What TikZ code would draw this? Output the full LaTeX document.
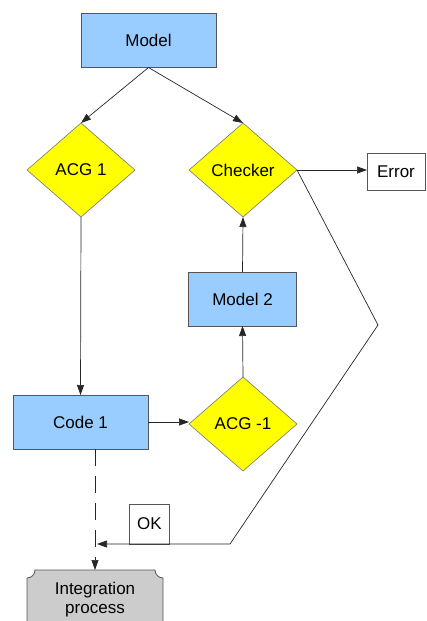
\documentclass[tikz,border=0pt]{standalone}
\usepackage{fontspec}
\setmainfont{Liberation Sans}
\usetikzlibrary{shapes.geometric,arrows.meta,calc}
\definecolor{boxblue}{HTML}{99CCFF}
\definecolor{dyellow}{HTML}{FFFF00}
\definecolor{igray}{HTML}{CCCCCC}
\definecolor{edge}{HTML}{555555}
\begin{document}
\begin{tikzpicture}[x=1pt,y=-1pt,
  every node/.style={font=\fontsize{17}{19.5}\selectfont, inner sep=0pt, outer sep=0pt},
  bluebox/.style={draw=edge, fill=boxblue, line width=0.8pt, minimum width=135pt, minimum height=54pt},
  decision/.style={diamond, draw=edge!80, fill=dyellow, line width=0.6pt, minimum width=108pt, minimum height=94pt, aspect=1.15},
  plainbox/.style={draw=edge, fill=white, line width=0.8pt},
  conn/.style={draw=black!85, line width=0.7pt},
  arr/.style={conn, -{Triangle[length=10pt,width=7pt]}},
  intshape/.style={draw=edge, fill=igray, line width=0.8pt}
]
\useasboundingbox (0,0) rectangle (426,621);
\node[bluebox] (model) at (148.5,40.5) {Model};
\node[decision] (acg1) at (81,170) {ACG 1};
\node[decision] (checker) at (243,170) {Checker};
\node[plainbox, minimum width=58pt, minimum height=37pt] (error) at (396,171.5) {Error};
\node[bluebox, minimum width=108pt] (model2) at (242.5,299) {Model 2};
\node[bluebox] (code1) at (80.5,422) {Code 1};
\node[decision] (acgm) at (243,424) {ACG -1};
\node[minimum width=136pt, minimum height=60pt] (int) at (95,600) {};
\path[intshape] ($(int.north west)+(8,0)$) -- ($(int.north east)+(-8,0)$)
  .. controls ($(int.north east)+(-8,4.4)$) and ($(int.north east)+(-4.4,8)$) .. ($(int.north east)+(0,8)$)
  -- ($(int.south east)+(0,-8)$)
  .. controls ($(int.south east)+(-4.4,-8)$) and ($(int.south east)+(-8,-4.4)$) .. ($(int.south east)+(-8,0)$)
  -- ($(int.south west)+(8,0)$)
  .. controls ($(int.south west)+(8,-4.4)$) and ($(int.south west)+(4.4,-8)$) .. ($(int.south west)+(0,-8)$)
  -- ($(int.north west)+(0,8)$)
  .. controls ($(int.north west)+(4.4,8)$) and ($(int.north west)+(8,4.4)$) .. cycle;
\node[align=center] at ([yshift=0.5pt]int.center) {Integration\\process};
\coordinate (k) at (378,325);
\coordinate (m) at (230,544);
\node[plainbox, minimum width=40pt, minimum height=40pt, anchor=south] (ok) at (149.5,544) {OK};
\draw[arr] (model.south) -- (acg1.north);
\draw[arr] (model.south) -- (checker.north);
\draw[arr] (acg1.south) -- (code1.north);
\draw[arr] (code1.east) -- (code1.east -| acgm.west);
\draw[arr] (acgm.north) -- (model2.south);
\draw[arr] (model2.north) -- (checker.south);
\draw[arr] (checker.east) -- (checker.east -| error.west);
\draw[arr] (checker.east) -- (k) -- (m) -- ([xshift=2pt]m -| int.north);
\draw[arr, dash pattern=on 17pt off 10pt] (code1.south -| int.north) -- (int.north);
\end{tikzpicture}
\end{document}
